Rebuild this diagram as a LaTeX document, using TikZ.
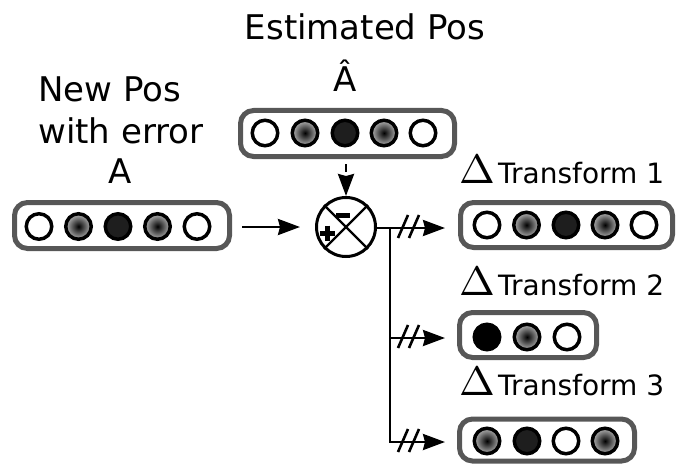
\documentclass[tikz,border=0pt]{standalone}
\usepackage{fontspec}
\setmainfont{DejaVu Sans}
\usetikzlibrary{arrows.meta}
\definecolor{boxgray}{HTML}{575757}
\definecolor{darkdot}{HTML}{1E1E1E}
\definecolor{edgegray}{HTML}{B4B4B4}
\newcommand{\bigdelta}{\scalebox{4.3}[4.1]{$\Delta$}}
\begin{document}
\begin{tikzpicture}[x=1pt,y=-1pt,
  vecbox/.style={draw=boxgray, line width=5pt, rounded corners=13pt, inner sep=0pt},
  dotbase/.style={circle, draw=black, line width=3.5pt, minimum size=25.5pt, inner sep=0pt},
  dwhite/.style={dotbase, fill=white},
  dgray/.style={dotbase, inner color=black, outer color=edgegray},
  ddark/.style={dotbase, fill=darkdot},
  dblack/.style={dotbase, fill=black},
  conn/.style={line width=2.6pt, line cap=butt},
  arr/.style={conn, -{Stealth[length=22pt,width=16pt,inset=2pt]}},
  big/.style={font=\fontsize{34}{40}\selectfont, inner sep=0pt},
  lbl/.style={font=\fontsize{28}{33}\selectfont, inner sep=0pt},
  slash/.style={line width=2.6pt}
]
\useasboundingbox (0,0) rectangle (676,465);

% texts
\node[big, anchor=base] (testim) at (365,40) {Estimated Pos};
\node[big, anchor=base] (tahat) at (345,92) {Â};
\node[big, anchor=base west] (tnew) at (38,102) {New Pos};
\node[big, anchor=base west] (twith) at (38,143) {with error};
\node[big, anchor=base] (ta) at (120,183) {A};

% boxes
\node[vecbox, minimum width=215pt, minimum height=46pt] (boxA) at (122,225.5) {};
\node[vecbox, minimum width=214pt, minimum height=46pt] (boxE) at (347.5,133.5) {};
\node[vecbox, minimum width=212pt, minimum height=45pt] (boxT1) at (566.5,225) {};
\node[vecbox, minimum width=137pt, minimum height=45pt] (boxT2) at (528,335) {};
\node[vecbox, minimum width=175pt, minimum height=42pt] (boxT3) at (547,440) {};

% dots box A
\node[dwhite] (a1) at (39,226.5) {};
\node[dgray]  (a2) at (78.5,226.5) {};
\node[ddark]  (a3) at (118,226.5) {};
\node[dgray]  (a4) at (157.5,226.5) {};
\node[dwhite] (a5) at (197,226.5) {};
% dots box E
\node[dwhite] (e1) at (265,133) {};
\node[dgray]  (e2) at (305,133) {};
\node[ddark]  (e3) at (345,133) {};
\node[dgray]  (e4) at (384,133) {};
\node[dwhite] (e5) at (423,133) {};
% dots T1
\node[dwhite] (t11) at (487,225) {};
\node[dgray]  (t12) at (526.5,225) {};
\node[ddark]  (t13) at (566,225) {};
\node[dgray]  (t14) at (605,225) {};
\node[dwhite] (t15) at (644,225) {};
% dots T2
\node[dblack] (t21) at (487,337) {};
\node[dgray]  (t22) at (527,337) {};
\node[dwhite] (t23) at (567,337) {};
% dots T3
\node[dgray]  (t31) at (487,441) {};
\node[ddark]  (t32) at (527,441) {};
\node[dwhite] (t33) at (566,441) {};
\node[dgray]  (t34) at (605,441) {};

% labels
\node[anchor=base west, inner sep=0pt] (d1) at (459,183) {\bigdelta};
\node[lbl, anchor=base west] (l1) at (498,183) {Transform 1};
\node[anchor=base west, inner sep=0pt] (d2) at (459,295) {\bigdelta};
\node[lbl, anchor=base west] (l2) at (498,295) {Transform 2};
\node[anchor=base west, inner sep=0pt] (d3) at (459,395) {\bigdelta};
\node[lbl, anchor=base west] (l3) at (498,395) {Transform 3};

% sum junction
\node[circle, draw=black, line width=3pt, minimum size=59pt, inner sep=0pt, fill=white] (sum) at (346,227) {};
\draw[line width=2.4pt] (sum.north west) -- (sum.south east);
\draw[line width=2.4pt] (sum.north east) -- (sum.south west);
\draw[line width=5pt] ([shift={(-10,-11.5)}]sum.center) -- ([shift={(4,-11.5)}]sum.center);
\draw[line width=5pt] ([shift={(-26.5,6)}]sum.center) -- ([shift={(-11.5,6)}]sum.center);
\draw[line width=5pt] ([shift={(-19,-1.5)}]sum.center) -- ([shift={(-19,13.5)}]sum.center);

% connectors
\draw[arr, shorten <=10pt, shorten >=15pt] (boxA.east |- sum) -- (sum.west);
\draw[arr, dash pattern=on 8pt off 5pt, shorten <=5pt] (boxE.south -| sum) -- (sum.north);

\coordinate (tee) at (390,228);
\coordinate (br2) at (390,338);
\coordinate (br3) at (390,442);
\draw[conn] (sum.east |- tee) -- (tee);
\draw[arr, shorten >=13pt] (tee) -- (tee -| boxT1.west);
\draw[conn, line cap=rect] (tee) -- (br3);
\draw[arr, shorten >=12pt] (br2) -- (br2 -| boxT2.west);
\draw[arr, shorten >=12pt] (br3) -- (br3 -| boxT3.west);

% double slashes
\foreach \c in {tee,br2,br3}{
  \draw[slash] ([shift={(8,10)}]\c) -- ([shift={(18,-13)}]\c);
  \draw[slash] ([shift={(19,10)}]\c) -- ([shift={(29,-13)}]\c);
}
\end{tikzpicture}
\end{document}
